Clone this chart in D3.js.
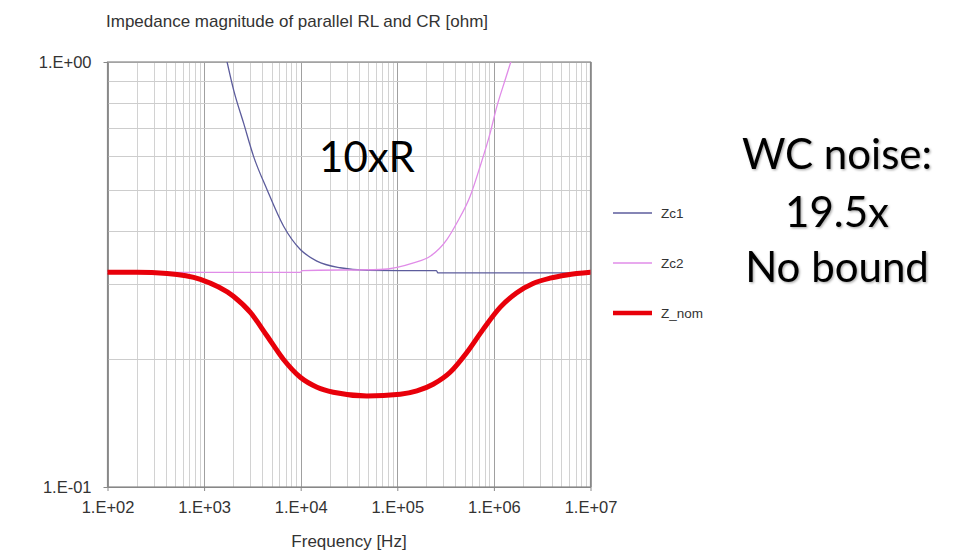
<!DOCTYPE html>
<html>
<head>
<meta charset="utf-8">
<script src="https://cdn.jsdelivr.net/npm/d3@7"></script>
<style>
  html, body { margin: 0; padding: 0; background: #fff; }
  svg { display: block; }
</style>
</head>
<body>
<svg id="chart" width="958" height="553"></svg>
<script>
// ---- data ----
const titleText = "Impedance magnitude of parallel RL and CR [ohm]";
const xAxisTitle = "Frequency [Hz]";
const xTickValues = [1e2, 1e3, 1e4, 1e5, 1e6, 1e7];
const xTickLabels = ["1.E+02", "1.E+03", "1.E+04", "1.E+05", "1.E+06", "1.E+07"];
const yTickValues = [0.1, 1];
const yTickLabels = ["1.E-01", "1.E+00"];
const seriesNames = ["Zc1", "Zc2", "Z_nom"];
const seriesColors = ["#5c5c9c", "#e08ce8", "#e8000a"];

const zc1Freq = [1730, 2023, 2565, 3258, 4487, 6653, 9910, 14720, 25640, 48530, 107200, 254100, 263000, 1e7];
const zc1Vals = [1.0, 0.859, 0.718, 0.599, 0.5005, 0.4107, 0.362, 0.340, 0.328, 0.3236, 0.3231, 0.3231, 0.319, 0.319];

const zc2Freq = [100, 9910, 10400, 66530, 147200, 218800, 325800, 413000, 567500, 719500, 914100, 1072000, 1306000, 1496000];
const zc2Vals = [0.320, 0.320, 0.3231, 0.3249, 0.3369, 0.349, 0.382, 0.418, 0.483, 0.5677, 0.680, 0.785, 0.907, 1.0];

const znomFreq = [100, 200, 414, 916, 2010, 3010, 4490, 6610, 9910, 14760, 21730, 48530, 107200, 159600, 235000, 352400, 524800, 772700, 1159000, 1726000, 2541000, 3800000, 5675000, 1e7];
const znomVals = [0.320, 0.320, 0.318, 0.308, 0.281, 0.2575, 0.2266, 0.1998, 0.1812, 0.1717, 0.1671, 0.1638, 0.1653, 0.1683, 0.1745, 0.1862, 0.2073, 0.2349, 0.2646, 0.2865, 0.3012, 0.3100, 0.3155, 0.320];

const annotation1 = "10xR";
const annotationLines = ["WC noise:", "19.5x", "No bound"];

// ---- layout ----
const svg = d3.select("#chart");
const plot = { left: 107.5, right: 590.5, top: 62, bottom: 487 };

const x = d3.scaleLog().domain([1e2, 1e7]).range([plot.left, plot.right]);
const y = d3.scaleLog().domain([0.1, 1]).range([plot.bottom, plot.top]);

const defs = svg.append("defs");
defs.append("clipPath").attr("id", "clip")
  .append("rect").attr("x", plot.left).attr("y", plot.top)
  .attr("width", plot.right - plot.left).attr("height", plot.bottom - plot.top);
const f = defs.append("filter").attr("id", "shadow").attr("x", "-10%").attr("y", "-10%").attr("width", "130%").attr("height", "140%");
f.append("feDropShadow").attr("dx", 1.2).attr("dy", 1.2).attr("stdDeviation", 0.9)
  .attr("flood-color", "#000").attr("flood-opacity", 0.35);

// grid
const minorX = [];
for (let e = 2; e < 7; e++) for (let k = 1; k <= 9; k++) minorX.push(k * Math.pow(10, e));
minorX.push(1e7);
const gridG = svg.append("g");
gridG.selectAll("line.vx").data(minorX).join("line")
  .attr("x1", d => Math.round(x(d)) + 0.5).attr("x2", d => Math.round(x(d)) + 0.5)
  .attr("y1", plot.top).attr("y2", plot.bottom)
  .attr("stroke", d => Math.abs(Math.log10(d) - Math.round(Math.log10(d))) < 1e-9 ? "#a0a0a0" : "#d2d2d2")
  .attr("stroke-width", 1);

const gridY = d3.range(1, 11).map(k => k / 10);
gridG.selectAll("line.hy").data(gridY).join("line")
  .attr("x1", plot.left).attr("x2", plot.right)
  .attr("y1", d => Math.round(y(d)) + 0.5).attr("y2", d => Math.round(y(d)) + 0.5)
  .attr("stroke", "#cdcdcd").attr("stroke-width", 1);

// axes
const xAxis = d3.axisBottom(x).tickValues(xTickValues)
  .tickFormat((d, i) => xTickLabels[i]).tickSizeInner(4).tickSizeOuter(0).tickPadding(10);
const xg = svg.append("g").attr("transform", `translate(0,${plot.bottom})`).call(xAxis);
xg.select(".domain").attr("stroke", "#888");
xg.selectAll(".tick line").attr("stroke", "#888");
xg.selectAll("text").attr("font-family", "Liberation Sans, Arial, sans-serif")
  .attr("font-size", 16.5).attr("fill", "#333");

const yAxis = d3.axisLeft(y).tickValues(yTickValues)
  .tickFormat((d, i) => yTickLabels[i]).tickSizeInner(4).tickSizeOuter(0).tickPadding(12);
const yg = svg.append("g").attr("transform", `translate(${plot.left},0)`).call(yAxis);
yg.select(".domain").attr("stroke", "#888");
yg.selectAll(".tick line").attr("stroke", "#888");
yg.selectAll("text").attr("font-family", "Liberation Sans, Arial, sans-serif")
  .attr("font-size", 16.5).attr("fill", "#333");

// frame (top and right)
svg.append("rect").attr("x", plot.left).attr("y", plot.top)
  .attr("width", plot.right - plot.left).attr("height", plot.bottom - plot.top)
  .attr("fill", "none").attr("stroke", "#888").attr("stroke-width", 1.2);

// titles
svg.append("text").attr("x", 106).attr("y", 27)
  .attr("font-family", "Liberation Sans, Arial, sans-serif").attr("font-size", 17)
  .attr("fill", "#333").text(titleText);
svg.append("text").attr("x", (plot.left + plot.right) / 2).attr("y", 547)
  .attr("text-anchor", "middle")
  .attr("font-family", "Liberation Sans, Arial, sans-serif").attr("font-size", 17)
  .attr("fill", "#333").text(xAxisTitle);

// series
const series = [
  { name: seriesNames[0], color: seriesColors[0], width: 1.3, pts: zc1Freq.map((d, i) => [d, zc1Vals[i]]) },
  { name: seriesNames[1], color: seriesColors[1], width: 1.3, pts: zc2Freq.map((d, i) => [d, zc2Vals[i]]) },
  { name: seriesNames[2], color: seriesColors[2], width: 5, pts: znomFreq.map((d, i) => [d, znomVals[i]]) }
];
const line = d3.line().x(d => x(d[0])).y(d => y(d[1])).curve(d3.curveMonotoneX);
const lg = svg.append("g").attr("clip-path", "url(#clip)");
lg.selectAll("path").data(series).join("path")
  .attr("d", d => line(d.pts)).attr("fill", "none")
  .attr("stroke", d => d.color).attr("stroke-width", d => d.width)
  .attr("stroke-linejoin", "round").attr("stroke-linecap", "round");

// legend
const legY = [213, 263, 313];
const leg = svg.append("g");
series.forEach((s, i) => {
  leg.append("line").attr("x1", 613).attr("x2", 652).attr("y1", legY[i]).attr("y2", legY[i])
    .attr("stroke", s.color).attr("stroke-width", s.width === 5 ? 4.5 : 1.3);
  leg.append("text").attr("x", 661).attr("y", legY[i]).attr("dy", "0.35em")
    .attr("font-family", "Liberation Sans, Arial, sans-serif").attr("font-size", 13.5)
    .attr("fill", "#333").text(s.name);
});

// annotations
svg.append("text").attr("x", 367).attr("y", 172).attr("text-anchor", "middle")
  .attr("font-family", "Lato, sans-serif").attr("font-size", 42).attr("fill", "#000")
  .text(annotation1);
const annY = [169, 227, 282];
annotationLines.forEach((t, i) => {
  svg.append("text").attr("x", 837).attr("y", annY[i]).attr("text-anchor", "middle")
    .attr("font-family", "Lato, sans-serif").attr("font-size", 42).attr("fill", "#000")
    .attr("filter", "url(#shadow)").text(t);
});
</script>
</body>
</html>
